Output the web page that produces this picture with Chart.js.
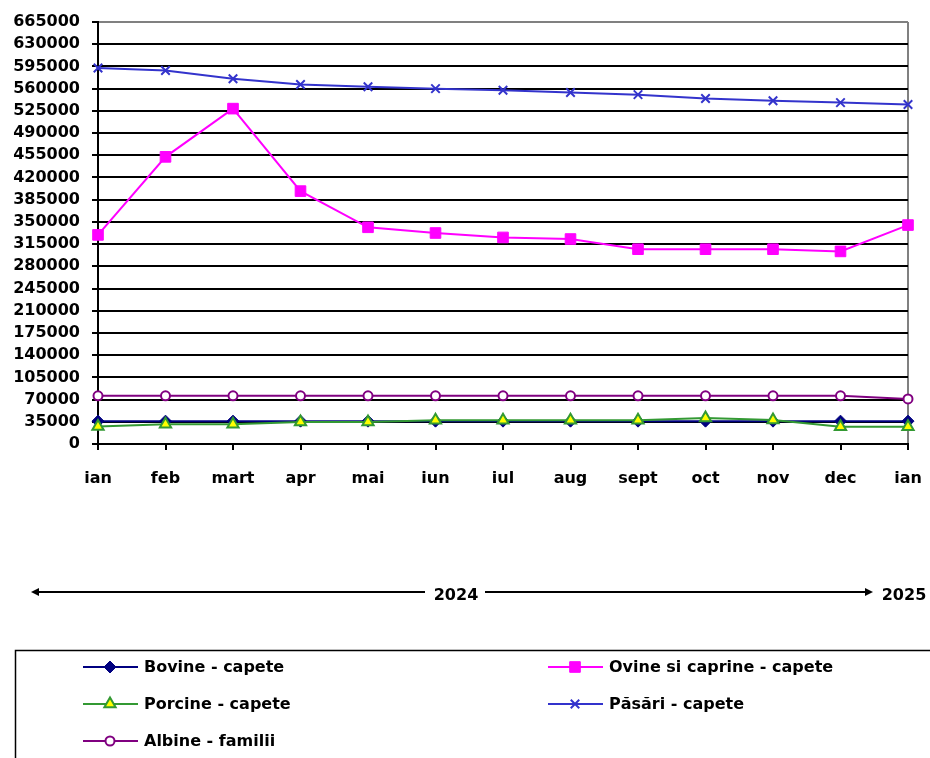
<!DOCTYPE html>
<html>
<head>
<meta charset="utf-8">
<script src="https://cdn.jsdelivr.net/npm/chart.js@4/dist/chart.umd.min.js"></script>
<style>
  html, body { margin: 0; padding: 0; background: #fff; }
  #wrap { position: relative; width: 930px; height: 758px; }
</style>
</head>
<body>
<div id="wrap"><canvas id="animalsChart" width="930" height="758"></canvas></div>
<script>
const months = ['ian', 'feb', 'mart', 'apr', 'mai', 'iun', 'iul', 'aug', 'sept', 'oct', 'nov', 'dec', 'ian'];

const bovine  = [36000, 36000, 36000, 36000, 36000, 36000, 36000, 36000, 36000, 36000, 36000, 36000, 36000];
const ovine   = [329500, 452500, 528500, 398500, 341500, 332500, 325500, 323000, 307000, 307000, 307000, 303500, 345000];
const porcine = [27500, 31000, 31000, 34500, 34500, 37500, 37500, 37500, 37500, 41000, 38000, 27000, 27000];
const pasari  = [592500, 588500, 575500, 566500, 563000, 560000, 557500, 554000, 550500, 544500, 541000, 538000, 535000];
const albine  = [76000, 76000, 76000, 76000, 76000, 76000, 76000, 76000, 76000, 76000, 76000, 76000, 71000];

const yMax = 665000;
const yStep = 35000;
const years = ['2024', '2025'];

const font = 'bold 16px "DejaVu Sans", Arial, sans-serif';

// legend box, arrow and year labels under the plot
const extras = {
    id: 'extras',
    afterDraw: (chart) => {
        const ctx = chart.ctx;
        const h = Chart.helpers;
        ctx.save();

        // year arrow
        ctx.strokeStyle = '#000';
        ctx.fillStyle = '#000';
        ctx.lineWidth = 2;
        const ay = 592;
        ctx.beginPath();
        ctx.moveTo(38, ay); ctx.lineTo(425, ay);
        ctx.moveTo(485, ay); ctx.lineTo(866, ay);
        ctx.stroke();
        ctx.beginPath();
        ctx.moveTo(31, ay); ctx.lineTo(39, ay - 4); ctx.lineTo(39, ay + 4); ctx.closePath();
        ctx.moveTo(873, ay); ctx.lineTo(865, ay - 4); ctx.lineTo(865, ay + 4); ctx.closePath();
        ctx.fill();
        ctx.font = font;
        ctx.textAlign = 'center';
        ctx.textBaseline = 'middle';
        ctx.fillText(years[0], 456, ay + 4);
        ctx.fillText(years[1], 904, ay + 4);

        // legend
        ctx.lineWidth = 1.5;
        ctx.strokeRect(15.5, 650.5, 940, 140);
        const spots = [[83, 667], [548, 667], [83, 704], [548, 704], [83, 741]];
        chart.data.datasets.forEach((ds, i) => {
            const [x, y] = spots[i];
            ctx.strokeStyle = ds.borderColor;
            ctx.lineWidth = 2;
            ctx.beginPath();
            ctx.moveTo(x, y); ctx.lineTo(x + 55, y);
            ctx.stroke();
            ctx.fillStyle = ds.pointBackgroundColor;
            ctx.strokeStyle = ds.pointBorderColor;
            ctx.lineWidth = ds.pointBorderWidth;
            h.drawPoint(ctx, {
                pointStyle: ds.pointStyle,
                radius: ds.pointRadius,
                borderWidth: ds.pointBorderWidth,
                rotation: 0
            }, x + 27, y);
            ctx.fillStyle = '#000';
            ctx.textAlign = 'left';
            ctx.font = font;
            ctx.fillText(ds.label, x + 61, y + 1);
        });
        ctx.restore();
    }
};

const data = {
    labels: months,
    datasets: [
        {
            label: 'Bovine - capete',
            data: bovine,
            borderColor: '#000080',
            borderWidth: 2,
            pointStyle: 'rectRot',
            pointRadius: 6,
            pointBackgroundColor: '#000080',
            pointBorderColor: '#000080',
            pointBorderWidth: 1,
            order: 2
        },
        {
            label: 'Ovine si caprine - capete',
            data: ovine,
            borderColor: '#FF00FF',
            borderWidth: 2,
            pointStyle: 'rect',
            pointRadius: 7.5,
            pointBackgroundColor: '#FF00FF',
            pointBorderColor: '#FF00FF',
            pointBorderWidth: 1,
            order: 1
        },
        {
            label: 'Porcine - capete',
            data: porcine,
            borderColor: '#339933',
            borderWidth: 2,
            pointStyle: 'triangle',
            pointRadius: 6.5,
            pointBackgroundColor: '#FFFF00',
            pointBorderColor: '#339933',
            pointBorderWidth: 2,
            order: 0
        },
        {
            label: 'Păsări - capete',
            data: pasari,
            borderColor: '#3333CC',
            borderWidth: 2,
            pointStyle: 'crossRot',
            pointRadius: 6,
            pointBackgroundColor: '#3333CC',
            pointBorderColor: '#3333CC',
            pointBorderWidth: 2,
            order: 1
        },
        {
            label: 'Albine - familii',
            data: albine,
            borderColor: '#800080',
            borderWidth: 2,
            pointStyle: 'circle',
            pointRadius: 4.5,
            pointBackgroundColor: '#FFFFFF',
            pointBorderColor: '#800080',
            pointBorderWidth: 2,
            order: 1
        }
    ]
};

const config = {
    type: 'line',
    data: data,
    plugins: [extras],
    options: {
        animation: false,
        responsive: false,
        devicePixelRatio: 1,
        layout: {
            padding: { left: 0, top: 22, right: 22, bottom: 254 }
        },
        elements: {
            line: { tension: 0 }
        },
        plugins: {
            legend: { display: false },
            tooltip: { enabled: false }
        },
        scales: {
            x: {
                offset: false,
                afterFit: (scale) => {
                    scale.height = 60;
                    scale.paddingLeft = 0;
                    scale.paddingRight = 0;
                },
                grid: {
                    drawOnChartArea: true,
                    color: (c) => c.index === months.length - 1 ? '#808080' : 'rgba(0,0,0,0)',
                    tickColor: '#000',
                    lineWidth: 2,
                    tickLength: 6
                },
                border: { color: '#000', width: 2 },
                ticks: {
                    color: '#000',
                    padding: 19,
                    maxRotation: 0,
                    autoSkip: false,
                    font: { family: '"DejaVu Sans", Arial, sans-serif', size: 16, weight: 'bold' }
                }
            },
            y: {
                min: 0,
                max: yMax,
                afterFit: (scale) => { scale.width = 98; },
                grid: {
                    color: (c) => c.tick && c.tick.value === yMax ? '#808080' : '#000',
                    tickColor: '#000',
                    lineWidth: 2,
                    tickLength: 6
                },
                border: { color: '#000', width: 2 },
                ticks: {
                    stepSize: yStep,
                    color: '#000',
                    padding: 12,
                    callback: (v) => String(v),
                    font: { family: '"DejaVu Sans", Arial, sans-serif', size: 16, weight: 'bold' }
                }
            }
        }
    }
};

new Chart(document.getElementById('animalsChart'), config);
</script>
</body>
</html>
